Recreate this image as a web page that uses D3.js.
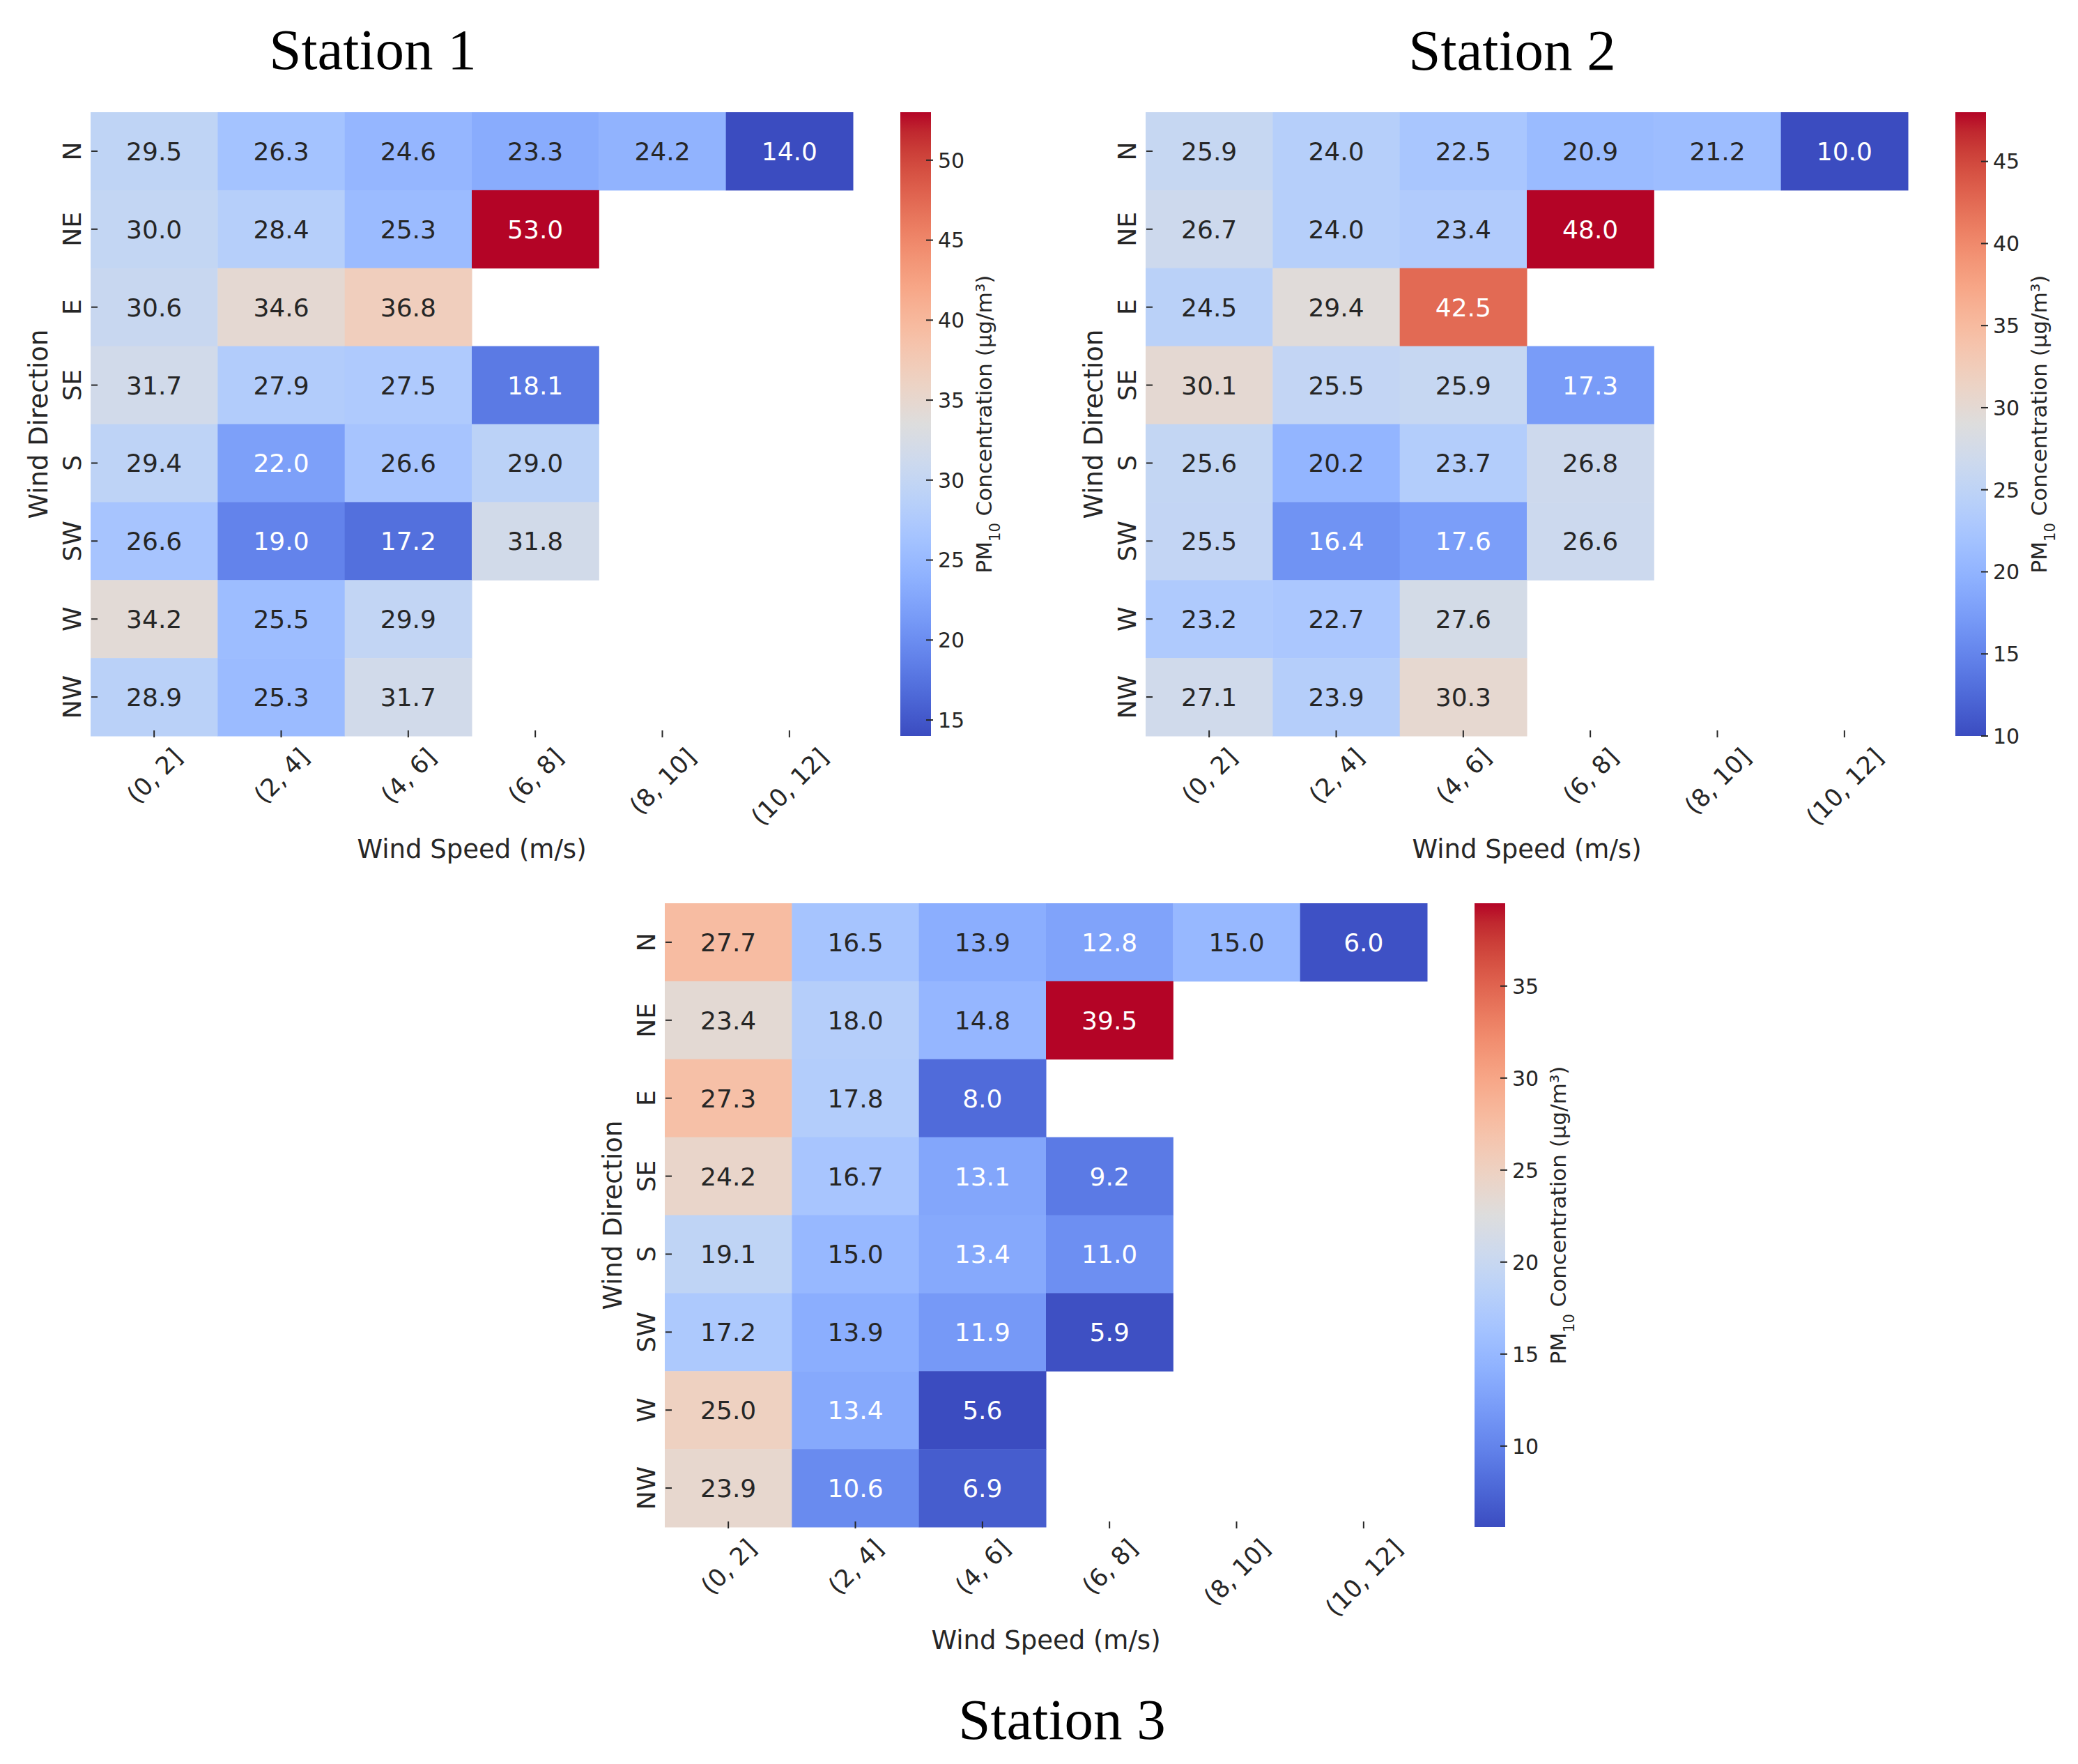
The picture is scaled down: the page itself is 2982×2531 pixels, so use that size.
<!DOCTYPE html>
<html>
<head>
<meta charset="utf-8">
<script src="https://cdn.jsdelivr.net/npm/d3@7"></script>
<style>
  body { margin: 0; background: #fff; }
  text { font-family: "DejaVu Sans", sans-serif; fill: #262626; }
</style>
</head>
<body>
<svg id="chart" width="2982" height="2531"></svg>
<script>
// categories
const directions = ["N", "NE", "E", "SE", "S", "SW", "W", "NW"];
const speedBins = ["(0, 2]", "(2, 4]", "(4, 6]", "(6, 8]", "(8, 10]", "(10, 12]"];

// PM10 values, rows = directions, cols = speed bins (null = no data)
const station1 = [
  [29.5, 26.3, 24.6, 23.3, 24.2, 14.0],
  [30.0, 28.4, 25.3, 53.0, null, null],
  [30.6, 34.6, 36.8, null, null, null],
  [31.7, 27.9, 27.5, 18.1, null, null],
  [29.4, 22.0, 26.6, 29.0, null, null],
  [26.6, 19.0, 17.2, 31.8, null, null],
  [34.2, 25.5, 29.9, null, null, null],
  [28.9, 25.3, 31.7, null, null, null]
];
const station2 = [
  [25.9, 24.0, 22.5, 20.9, 21.2, 10.0],
  [26.7, 24.0, 23.4, 48.0, null, null],
  [24.5, 29.4, 42.5, null, null, null],
  [30.1, 25.5, 25.9, 17.3, null, null],
  [25.6, 20.2, 23.7, 26.8, null, null],
  [25.5, 16.4, 17.6, 26.6, null, null],
  [23.2, 22.7, 27.6, null, null, null],
  [27.1, 23.9, 30.3, null, null, null]
];
const station3 = [
  [27.7, 16.5, 13.9, 12.8, 15.0, 6.0],
  [23.4, 18.0, 14.8, 39.5, null, null],
  [27.3, 17.8, 8.0, null, null, null],
  [24.2, 16.7, 13.1, 9.2, null, null],
  [19.1, 15.0, 13.4, 11.0, null, null],
  [17.2, 13.9, 11.9, 5.9, null, null],
  [25.0, 13.4, 5.6, null, null, null],
  [23.9, 10.6, 6.9, null, null, null]
];

// colorbar tick labels
const cbTicks1 = [15, 20, 25, 30, 35, 40, 45, 50];
const cbTicks2 = [10, 15, 20, 25, 30, 35, 40, 45];
const cbTicks3 = [10, 15, 20, 25, 30, 35];

const titles = ["Station 1", "Station 2", "Station 3"];

// matplotlib "coolwarm" (Moreland) control colours, evenly spaced 0..1
const coolwarmRGB = [
  [59,76,192],[68,90,204],[77,104,215],[87,117,225],[98,130,234],[108,142,241],
  [119,154,247],[130,165,251],[141,176,254],[152,185,255],[163,194,255],[174,201,253],
  [184,208,249],[194,213,244],[204,217,238],[213,219,230],[221,221,221],[229,216,209],
  [236,211,197],[241,204,185],[245,196,173],[247,187,160],[247,177,148],[247,166,135],
  [244,154,123],[241,141,111],[236,127,99],[229,112,88],[222,96,77],[213,80,66],
  [203,62,56],[192,40,47],[180,4,38]
];
const cwColors = coolwarmRGB.map(c => d3.rgb(c[0], c[1], c[2]).formatHex());
const cwScale = d3.scaleLinear()
  .domain(cwColors.map((c, i) => i / (cwColors.length - 1)))
  .range(cwColors)
  .interpolate(d3.interpolateRgb)
  .clamp(true);
const coolwarm = t => cwScale(t);

// seaborn-style annotation colour choice
function textColor(col) {
  const c = d3.rgb(col);
  const lin = v => { v /= 255; return v <= 0.03928 ? v / 12.92 : Math.pow((v + 0.055) / 1.055, 2.4); };
  const lum = 0.2126 * lin(c.r) + 0.7152 * lin(c.g) + 0.0722 * lin(c.b);
  return lum > 0.408 ? "#262626" : "#ffffff";
}

const W = 1094, H = 895;   // heatmap size
const CB_X = 1162, CB_W = 44;

const panels = [
  { data: station1, ticks: cbTicks1, title: titles[0], x: 130, y: 161, tx: 535, ty: 99 },
  { data: station2, ticks: cbTicks2, title: titles[1], x: 1644, y: 161, tx: 2170, ty: 100 },
  { data: station3, ticks: cbTicks3, title: titles[2], x: 954, y: 1296, tx: 1524, ty: 2495 }
];

const svg = d3.select("#chart");
const defs = svg.append("defs");
const fmt = d3.format(".1f");

function drawPanel(p, idx) {
  const vals = p.data.flat().filter(v => v != null);
  const vmin = d3.min(vals), vmax = d3.max(vals);
  const color = d3.scaleSequential(coolwarm).domain([vmin, vmax]);

  const x = d3.scaleBand().domain(speedBins).range([0, W]);
  const y = d3.scaleBand().domain(directions).range([0, H]);

  const g = svg.append("g").attr("transform", `translate(${p.x},${p.y})`);

  const cells = [];
  p.data.forEach((row, r) => row.forEach((v, c) => {
    if (v != null) cells.push({ dir: directions[r], bin: speedBins[c], v });
  }));

  g.selectAll("rect.cell").data(cells).join("rect")
    .attr("class", "cell")
    .attr("x", d => x(d.bin))
    .attr("y", d => y(d.dir))
    .attr("width", x.bandwidth() + 0.5)
    .attr("height", y.bandwidth() + 0.5)
    .attr("fill", d => color(d.v));

  g.selectAll("text.annot").data(cells).join("text")
    .attr("class", "annot")
    .attr("x", d => x(d.bin) + x.bandwidth() / 2)
    .attr("y", d => y(d.dir) + y.bandwidth() / 2)
    .attr("dy", "0.36em")
    .attr("text-anchor", "middle")
    .style("font-size", "36px")
    .style("fill", d => textColor(color(d.v)))
    .text(d => fmt(d.v));

  // y ticks and labels
  directions.forEach(d => {
    const yc = y(d) + y.bandwidth() / 2;
    g.append("line").attr("x1", 1).attr("x2", 10).attr("y1", yc).attr("y2", yc)
      .attr("stroke", "#262626").attr("stroke-width", 2);
    g.append("text")
      .attr("transform", `translate(-14,${yc}) rotate(-90)`)
      .attr("text-anchor", "middle")
      .style("font-size", "36px")
      .text(d);
  });

  // x ticks and rotated labels
  speedBins.forEach(b => {
    const xc = x(b) + x.bandwidth() / 2;
    g.append("line").attr("x1", xc).attr("x2", xc).attr("y1", H - 8).attr("y2", H + 2)
      .attr("stroke", "#262626").attr("stroke-width", 2);
    const t = g.append("text")
      .attr("text-anchor", "middle")
      .attr("dy", "0.36em")
      .style("font-size", "35px")
      .text(b);
    const w = t.node().getComputedTextLength();
    const half = (w + 35 * 1.164) * Math.SQRT1_2 / 2;
    t.attr("transform", `translate(${xc},${H + 9 + half}) rotate(-45)`);
  });

  // axis labels
  g.append("text")
    .attr("x", W / 2).attr("y", H + 175)
    .attr("text-anchor", "middle")
    .style("font-size", "37px")
    .text("Wind Speed (m/s)");
  g.append("text")
    .attr("transform", `translate(-75,${H / 2}) rotate(-90)`)
    .attr("dy", "0.36em")
    .attr("text-anchor", "middle")
    .style("font-size", "37px")
    .text("Wind Direction");

  // colorbar
  const gid = "cw" + idx;
  const grad = defs.append("linearGradient").attr("id", gid)
    .attr("x1", 0).attr("y1", 1).attr("x2", 0).attr("y2", 0);
  grad.selectAll("stop").data(cwColors).join("stop")
    .attr("offset", (c, i) => i / (cwColors.length - 1))
    .attr("stop-color", c => c);

  const cbY = d3.scaleLinear().domain([vmin, vmax]).range([H, 0]);
  const cb = g.append("g").attr("transform", `translate(${CB_X},0)`);
  cb.append("rect").attr("width", CB_W).attr("height", H).attr("fill", `url(#${gid})`);
  cb.selectAll("line.tk").data(p.ticks).join("line")
    .attr("class", "tk")
    .attr("x1", CB_W - 7).attr("x2", CB_W + 3)
    .attr("y1", d => cbY(d)).attr("y2", d => cbY(d))
    .attr("stroke", "#262626").attr("stroke-width", 2);
  cb.selectAll("text.tl").data(p.ticks).join("text")
    .attr("class", "tl")
    .attr("x", CB_W + 10)
    .attr("y", d => cbY(d))
    .attr("dy", "0.36em")
    .style("font-size", "30px")
    .text(d => d);

  const lab = g.append("text")
    .attr("transform", `translate(1282,${H / 2}) rotate(-90)`)
    .attr("dy", "0.36em")
    .attr("text-anchor", "middle")
    .style("font-size", "31px");
  lab.append("tspan").text("PM");
  lab.append("tspan").attr("baseline-shift", "sub").style("font-size", "21px").text("10");
  lab.append("tspan").text(" Concentration (μg/m³)");

  // panel title
  svg.append("text")
    .attr("x", p.tx).attr("y", p.ty)
    .attr("text-anchor", "middle")
    .style("font-family", "'Liberation Serif', 'Times New Roman', serif")
    .style("font-size", "83px")
    .style("fill", "#000")
    .text(p.title);
}

panels.forEach(drawPanel);
</script>
</body>
</html>
